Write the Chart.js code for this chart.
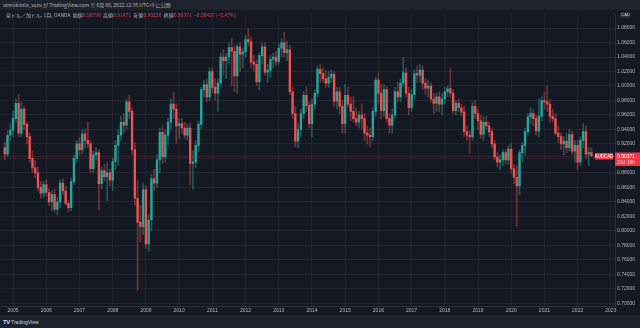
<!DOCTYPE html>
<html>
<head>
<meta charset="utf-8">
<script src="https://cdn.jsdelivr.net/npm/chart.js@4.4.0/dist/chart.umd.min.js"></script>
<style>
  html, body { margin: 0; padding: 0; width: 640px; height: 328px; overflow: hidden; background: #1e222d; }
  body { position: relative; font-family: "Noto Sans CJK JP", "Noto Sans", sans-serif; }
  #top { position: absolute; left: 3px; top: 2px; font-size: 5px; line-height: 6px; color: #b2b5be; white-space: nowrap; }
  #wrap { position: absolute; left: 0; top: 10px; width: 640px; height: 305px; }
  #legend { position: absolute; left: 6px; top: 11.5px; font-size: 5px; line-height: 6px; color: #b2b5be; white-space: nowrap; }
  #legend .v { color: #f23645; }
  #foot { position: absolute; left: 3px; top: 319px; font-family: "Liberation Sans", sans-serif; font-size: 5px; line-height: 6px; color: #d1d4dc; white-space: nowrap; }
  #foot b { font-size: 6px; letter-spacing: -0.3px; margin-right: 1px; }
</style>
</head>
<body>
<div id="top">semiikitala_suzu が TradingView.com で 6月 08, 2022 12:35 UTC+9 に公開</div>
<div id="wrap"><canvas id="grafico" width="640" height="305"></canvas></div>
<div id="legend"></div>
<div id="foot"><b>TV</b>TradingView</div>
<script>
// AUDCAD monthly candles, Oct 2004 .. Jun 2022
const firstMonth = [2004, 10];
const opens = [
  0.915, 0.906, 0.932,
  0.939, 0.955, 0.976, 0.935, 0.968, 0.947, 0.930, 0.900, 0.887, 0.880, 0.860, 0.852,
  0.864, 0.853, 0.840, 0.850, 0.830, 0.840, 0.866, 0.855, 0.838, 0.832, 0.868, 0.900,
  0.920, 0.912, 0.934, 0.925, 0.920, 0.886, 0.905, 0.908, 0.865, 0.883, 0.875, 0.880,
  0.870, 0.896, 0.918, 0.932, 0.950, 0.946, 0.978, 0.965, 0.912, 0.845, 0.812, 0.806,
  0.857, 0.782, 0.815, 0.872, 0.866, 0.898, 0.936, 0.902, 0.932, 0.950, 0.975, 0.968,
  0.945, 0.948, 0.942, 0.932, 0.942, 0.893, 0.895, 0.918, 0.947, 0.995, 1.002, 0.985,
  1.020, 0.998, 0.990, 1.004, 1.040, 1.035, 1.040, 1.053, 1.048, 1.014, 1.054, 1.044,
  1.047, 1.064, 1.061, 1.033, 1.030, 1.006, 1.042, 1.054, 1.019, 1.022, 1.037, 1.040,
  1.034, 1.052, 1.060, 1.046, 1.050, 0.992, 0.962, 0.924, 0.940, 0.962, 0.987, 0.973,
  0.948, 0.975, 0.990, 1.023, 1.017, 1.010, 1.004, 1.012, 1.016, 0.979, 0.992, 0.972,
  0.948, 0.987, 0.975, 0.965, 0.955, 0.950, 0.960, 0.955, 0.935, 0.932, 0.930, 0.965,
  1.008, 0.990, 0.966, 0.995, 0.955, 0.946, 0.960, 0.992, 0.985, 1.004, 1.018, 0.990,
  0.970, 0.988, 1.017, 1.015, 1.022, 1.004, 0.997, 1.000, 0.982, 0.976, 0.985, 0.975,
  0.982, 0.992, 0.996, 0.990, 0.966, 0.976, 0.970, 0.964, 0.937, 0.932, 0.930, 0.972,
  0.962, 0.952, 0.933, 0.950, 0.945, 0.937, 0.920, 0.902, 0.895, 0.898, 0.908, 0.898,
  0.913, 0.886, 0.874, 0.862, 0.908, 0.918, 0.937, 0.957, 0.962, 0.955, 0.938, 0.958,
  0.980, 0.978, 0.975, 0.958, 0.955, 0.935, 0.930, 0.920, 0.924, 0.915, 0.933, 0.910,
  0.918, 0.895, 0.925, 0.937, 0.906, 0.90798
];
const highs = [
  0.922, 0.938, 0.948,
  0.965, 0.982, 0.988, 0.978, 0.972, 0.950, 0.935, 0.910, 0.897, 0.888, 0.868, 0.868,
  0.870, 0.858, 0.856, 0.858, 0.846, 0.870, 0.872, 0.862, 0.842, 0.873, 0.905, 0.925,
  0.928, 0.940, 0.940, 0.951, 0.925, 0.910, 0.915, 0.912, 0.888, 0.892, 0.895, 0.885,
  0.900, 0.925, 0.940, 0.958, 0.962, 0.982, 0.987, 0.970, 0.922, 0.870, 0.835, 0.866,
  0.862, 0.822, 0.878, 0.885, 0.905, 0.942, 0.945, 0.940, 0.955, 0.982, 0.992, 0.975,
  0.955, 0.955, 0.950, 0.948, 0.948, 0.910, 0.925, 0.952, 0.998, 1.008, 1.010, 1.025,
  1.025, 1.010, 1.010, 1.045, 1.050, 1.045, 1.060, 1.065, 1.055, 1.058, 1.060, 1.052,
  1.070, 1.079, 1.068, 1.042, 1.036, 1.046, 1.060, 1.060, 1.030, 1.042, 1.045, 1.048,
  1.058, 1.065, 1.074, 1.062, 1.056, 0.998, 0.972, 0.948, 0.968, 0.992, 0.998, 0.978,
  0.982, 0.995, 1.028, 1.030, 1.025, 1.022, 1.020, 1.022, 1.020, 0.998, 0.998, 0.980,
  1.002, 0.998, 0.985, 0.985, 0.970, 0.965, 0.975, 0.962, 0.945, 0.942, 0.970, 1.012,
  1.018, 1.002, 1.002, 1.000, 0.962, 0.968, 0.998, 1.005, 1.010, 1.040, 1.025, 0.998,
  0.995, 1.022, 1.028, 1.030, 1.028, 1.010, 1.008, 1.005, 0.990, 0.990, 0.992, 0.990,
  0.998, 1.000, 1.025, 0.995, 0.980, 0.982, 0.975, 0.972, 0.945, 0.938, 0.978, 0.980,
  0.968, 0.960, 0.958, 0.958, 0.950, 0.942, 0.925, 0.908, 0.905, 0.912, 0.912, 0.918,
  0.920, 0.892, 0.890, 0.912, 0.922, 0.942, 0.962, 0.970, 0.968, 0.960, 0.982, 0.985,
  0.992, 1.000, 0.982, 0.968, 0.962, 0.945, 0.935, 0.930, 0.935, 0.940, 0.938, 0.925,
  0.925, 0.930, 0.948, 0.945, 0.915, 0.91471
];
const lows = [
  0.898, 0.902, 0.925,
  0.930, 0.950, 0.930, 0.930, 0.940, 0.920, 0.895, 0.880, 0.873, 0.855, 0.845, 0.846,
  0.848, 0.835, 0.828, 0.826, 0.822, 0.832, 0.850, 0.835, 0.826, 0.828, 0.864, 0.895,
  0.905, 0.906, 0.915, 0.915, 0.880, 0.880, 0.898, 0.829, 0.858, 0.868, 0.842, 0.862,
  0.855, 0.885, 0.890, 0.925, 0.935, 0.940, 0.955, 0.905, 0.835, 0.718, 0.785, 0.795,
  0.776, 0.772, 0.800, 0.855, 0.860, 0.880, 0.893, 0.895, 0.918, 0.940, 0.955, 0.921,
  0.928, 0.935, 0.928, 0.925, 0.864, 0.858, 0.888, 0.910, 0.940, 0.985, 0.978, 0.980,
  0.990, 0.980, 0.965, 1.000, 1.015, 1.010, 1.030, 1.000, 0.992, 0.990, 1.020, 1.025,
  1.040, 1.055, 1.025, 1.020, 1.000, 0.995, 1.030, 1.015, 1.005, 1.012, 1.025, 1.028,
  1.030, 1.040, 1.040, 1.035, 0.988, 0.955, 0.916, 0.915, 0.930, 0.955, 0.965, 0.942,
  0.930, 0.968, 0.985, 1.005, 1.005, 0.998, 0.998, 1.005, 0.972, 0.968, 0.962, 0.935,
  0.935, 0.970, 0.952, 0.950, 0.945, 0.942, 0.940, 0.925, 0.920, 0.916, 0.925, 0.958,
  0.975, 0.955, 0.958, 0.950, 0.935, 0.935, 0.955, 0.978, 0.978, 1.000, 0.985, 0.960,
  0.965, 0.982, 1.005, 1.005, 0.995, 0.988, 0.985, 0.978, 0.962, 0.965, 0.965, 0.960,
  0.975, 0.985, 0.985, 0.962, 0.960, 0.965, 0.958, 0.930, 0.925, 0.908, 0.925, 0.955,
  0.940, 0.928, 0.925, 0.940, 0.930, 0.915, 0.898, 0.888, 0.885, 0.890, 0.892, 0.892,
  0.880, 0.865, 0.806, 0.850, 0.895, 0.905, 0.932, 0.948, 0.945, 0.932, 0.930, 0.952,
  0.968, 0.965, 0.950, 0.950, 0.932, 0.922, 0.912, 0.905, 0.908, 0.910, 0.905, 0.895,
  0.885, 0.890, 0.915, 0.900, 0.890, 0.90220
];
const closes = [
  0.906, 0.932, 0.939,
  0.955, 0.976, 0.935, 0.968, 0.947, 0.930, 0.900, 0.887, 0.880, 0.860, 0.852, 0.864,
  0.853, 0.840, 0.850, 0.830, 0.840, 0.866, 0.855, 0.838, 0.832, 0.868, 0.900, 0.920,
  0.912, 0.934, 0.925, 0.920, 0.886, 0.905, 0.908, 0.865, 0.883, 0.875, 0.880, 0.870,
  0.896, 0.918, 0.932, 0.950, 0.946, 0.978, 0.965, 0.912, 0.845, 0.812, 0.806, 0.857,
  0.782, 0.815, 0.872, 0.866, 0.898, 0.936, 0.902, 0.932, 0.950, 0.975, 0.968, 0.945,
  0.948, 0.942, 0.932, 0.942, 0.893, 0.895, 0.918, 0.947, 0.995, 1.002, 0.985, 1.020,
  0.998, 0.990, 1.004, 1.040, 1.035, 1.040, 1.053, 1.048, 1.014, 1.054, 1.044, 1.047,
  1.064, 1.061, 1.033, 1.030, 1.006, 1.042, 1.054, 1.019, 1.022, 1.037, 1.040, 1.034,
  1.052, 1.060, 1.046, 1.050, 0.992, 0.962, 0.924, 0.940, 0.962, 0.987, 0.973, 0.948,
  0.975, 0.990, 1.023, 1.017, 1.010, 1.004, 1.012, 1.016, 0.979, 0.992, 0.972, 0.948,
  0.987, 0.975, 0.965, 0.955, 0.950, 0.960, 0.955, 0.935, 0.932, 0.930, 0.965, 1.008,
  0.990, 0.966, 0.995, 0.955, 0.946, 0.960, 0.992, 0.985, 1.004, 1.018, 0.990, 0.970,
  0.988, 1.017, 1.015, 1.022, 1.004, 0.997, 1.000, 0.982, 0.976, 0.985, 0.975, 0.982,
  0.992, 0.996, 0.990, 0.966, 0.976, 0.970, 0.964, 0.937, 0.932, 0.930, 0.972, 0.962,
  0.952, 0.933, 0.950, 0.945, 0.937, 0.920, 0.902, 0.895, 0.898, 0.908, 0.898, 0.913,
  0.886, 0.874, 0.862, 0.908, 0.918, 0.937, 0.957, 0.962, 0.955, 0.938, 0.958, 0.980,
  0.978, 0.975, 0.958, 0.955, 0.935, 0.930, 0.920, 0.924, 0.915, 0.933, 0.910, 0.918,
  0.895, 0.925, 0.937, 0.906, 0.90798, 0.90371
];
const yearLabels = ['2005', '2006', '2007', '2008', '2009', '2010', '2011', '2012', '2013',
  '2014', '2015', '2016', '2017', '2018', '2019', '2020', '2021', '2022', '2023'];

const corAlta = '#26a69a';
const corBaixa = '#ef5350';
const pavioAlta = 'rgba(38,166,154,0.45)';
const pavioBaixa = 'rgba(239,83,80,0.42)';
const fundo = '#151924';
const grade = 'rgba(42,46,57,0.55)';
const textoEixo = '#b2b5be';

// month slots on the time axis: one empty slot before the data, a few after it
const meses = [];
for (let k = 0; k < 222; k++) {
  const m = firstMonth[1] - 2 + k;
  const ano = firstMonth[0] + Math.floor(m / 12);
  meses.push(ano + '-' + String(m % 12 + 1).padStart(2, '0'));
}

const corpos = [], pavios = [], coresCorpo = [], coresPavio = [];
closes.forEach((c, i) => {
  const x = meses[i + 1];
  const sobe = c >= opens[i];
  corpos.push({ x: x, y: [opens[i], c] });
  pavios.push({ x: x, y: [lows[i], highs[i]] });
  coresCorpo.push(sobe ? corAlta : corBaixa);
  coresPavio.push(sobe ? pavioAlta : pavioBaixa);
});

// legend line with the last candle
const n = closes.length - 1;
const variacao = closes[n] - closes[n - 1];
const pct = variacao / closes[n - 1] * 100;
const sinal = (v, d) => (v < 0 ? '−' : '+') + Math.abs(v).toFixed(d);
document.getElementById('legend').innerHTML =
  '豪ドル／加ドル, 1月, OANDA&nbsp; 始値<span class="v">' + opens[n].toFixed(5) +
  '</span>&nbsp; 高値<span class="v">' + highs[n].toFixed(5) +
  '</span>&nbsp; 安値<span class="v">' + lows[n].toFixed(5) +
  '</span>&nbsp; 終値<span class="v">' + closes[n].toFixed(5) +
  '</span>&nbsp; <span class="v">' + sinal(variacao, 5) + ' (' + sinal(pct, 2) + '%)</span>';

const fundoPlugin = {
  id: 'fundo',
  beforeDraw(chart) {
    const ctx = chart.ctx;
    ctx.save();
    ctx.fillStyle = fundo;
    ctx.fillRect(0, 0, chart.width, chart.height);
    ctx.restore();
  }
};

const precoAtualPlugin = {
  id: 'precoAtual',
  beforeDatasetsDraw(chart) {
    const { ctx, chartArea, scales } = chart;
    const y = Math.round(scales.y.getPixelForValue(closes[n])) + 0.5;
    ctx.save();
    ctx.strokeStyle = 'rgba(242,54,69,0.2)';
    ctx.lineWidth = 1;
    ctx.beginPath();
    ctx.moveTo(chartArea.left, y);
    ctx.lineTo(chartArea.right, y);
    ctx.stroke();
    ctx.restore();
  },
  afterDraw(chart) {
    const { ctx, chartArea, scales } = chart;
    const y = Math.round(scales.y.getPixelForValue(closes[n]));
    const r = chartArea.right;
    ctx.save();
    ctx.textBaseline = 'middle';
    // symbol tag
    ctx.fillStyle = '#f23645';
    ctx.fillRect(r - 20, y - 3, 18, 6.5);
    ctx.fillStyle = '#ffffff';
    ctx.font = '4.5px "Liberation Sans", sans-serif';
    ctx.textAlign = 'center';
    ctx.fillText('AUDCAD', r - 11, y + 0.4);
    // price tag
    ctx.fillStyle = '#f23645';
    ctx.fillRect(r, y - 3.5, chart.width - r, 13.5);
    ctx.textAlign = 'left';
    ctx.fillStyle = '#ffffff';
    ctx.font = '5px "Liberation Sans", sans-serif';
    ctx.fillText(closes[n].toFixed(5), r + 2, y + 0.3);
    ctx.fillStyle = 'rgba(255,255,255,0.8)';
    ctx.fillText('22d 18h', r + 2, y + 6.8);
    // currency badge
    ctx.fillStyle = '#2a2e39';
    ctx.beginPath();
    ctx.roundRect(r + 5, 2.3, 11, 5.4, 1.5);
    ctx.fill();
    ctx.fillStyle = '#d1d4dc';
    ctx.font = '4px "Liberation Sans", sans-serif';
    ctx.textAlign = 'center';
    ctx.fillText('CAD', r + 10.5, 5.2);
    ctx.restore();
  }
};

new Chart(document.getElementById('grafico').getContext('2d'), {
  type: 'bar',
  data: {
    labels: meses,
    datasets: [
      {
        data: corpos,
        backgroundColor: coresCorpo,
        barThickness: 1.7,
        minBarLength: 1,
        grouped: false,
        order: 0
      },
      {
        data: pavios,
        backgroundColor: coresPavio,
        barThickness: 1,
        grouped: false,
        order: 1
      }
    ]
  },
  options: {
    responsive: false,
    animation: false,
    layout: { padding: 0 },
    plugins: { legend: { display: false }, tooltip: { enabled: false } },
    scales: {
      x: {
        type: 'category',
        offset: true,
        afterFit(scale) { scale.height = 9; },
        grid: {
          offset: false,
          drawTicks: false,
          color: c => (c.index !== undefined && meses[c.index] && meses[c.index].endsWith('-01')) ? grade : 'transparent'
        },
        border: { color: '#2a2e39' },
        ticks: {
          autoSkip: false,
          maxRotation: 0,
          padding: 2,
          color: textoEixo,
          font: { family: '"Liberation Sans", sans-serif', size: 5 },
          callback(v) {
            const rot = meses[v];
            const ano = rot.slice(0, 4);
            return rot.endsWith('-01') && yearLabels.includes(ano) ? ano : '';
          }
        }
      },
      y: {
        position: 'right',
        min: 0.6963,
        max: 1.098,
        afterFit(scale) { scale.width = 25; },
        grid: { color: grade, drawTicks: false },
        border: { color: '#2a2e39' },
        ticks: {
          stepSize: 0.02,
          includeBounds: false,
          padding: 2,
          color: textoEixo,
          font: { family: '"Liberation Sans", sans-serif', size: 5 },
          callback: v => v.toFixed(5)
        }
      }
    }
  },
  plugins: [fundoPlugin, precoAtualPlugin]
});
</script>
</body>
</html>
